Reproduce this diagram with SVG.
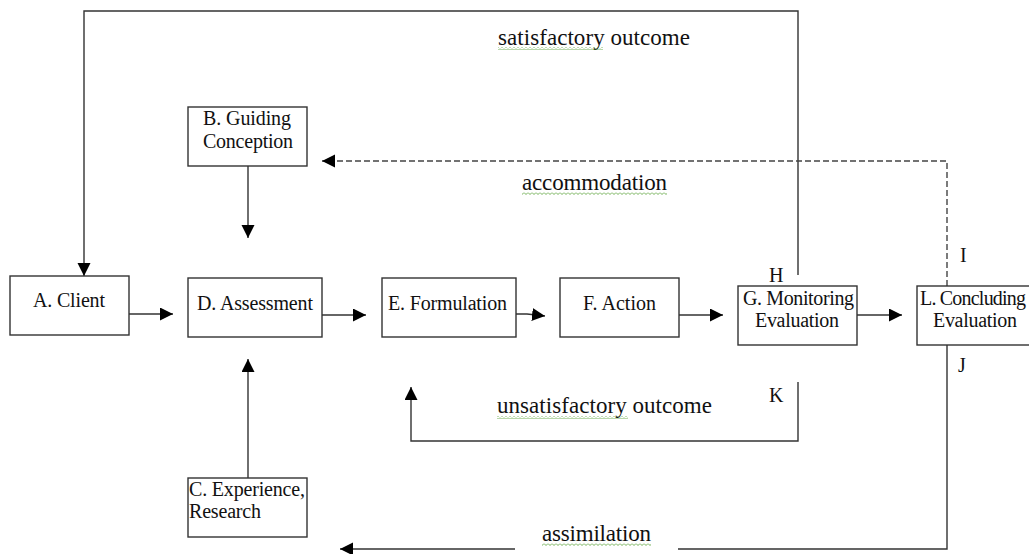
<svg xmlns="http://www.w3.org/2000/svg" width="1029" height="554" viewBox="0 0 1029 554">
<style>
.box{fill:#fff;stroke:#333;stroke-width:1.4}
.ln{fill:none;stroke:#333;stroke-width:1.4}
.dash{fill:none;stroke:#444;stroke-width:1.4;stroke-dasharray:6 3}
.t{font-family:"Liberation Serif","Times New Roman",serif;font-size:20px;fill:#111}
.lb{font-family:"Liberation Serif","Times New Roman",serif;font-size:23px;fill:#111}
.sq{fill:url(#squig)}
</style>
<defs>
<marker id="ah" markerUnits="userSpaceOnUse" markerWidth="14" markerHeight="14" refX="13" refY="6.5" orient="auto">
<path d="M0,0 L13,6.5 L0,13 z" fill="#000"/>
</marker>
<pattern id="squig" patternUnits="userSpaceOnUse" width="4" height="3">
<path d="M0,0.5 L2,2.5 L4,0.5" fill="none" stroke="#4c9a2a" stroke-width="0.8"/>
</pattern>
</defs>
<rect width="1029" height="554" fill="#fff"/>

<g id="connectors">
<path class="ln" d="M798,275 L798,11 L84,11 L84,276" marker-end="url(#ah)"/>
<path class="ln" d="M248,166 L248,238" marker-end="url(#ah)"/>
<path class="ln" d="M248,478 L248,359" marker-end="url(#ah)"/>
<path class="dash" d="M947,286 L947,161 L322,161" marker-end="url(#ah)"/>
<path class="ln" d="M129,314 L173,314" marker-end="url(#ah)"/>
<path class="ln" d="M322,315 L366,315" marker-end="url(#ah)"/>
<path class="ln" d="M516,314 L527,314 L545,316" marker-end="url(#ah)"/>
<path class="ln" d="M679,315 L723,315" marker-end="url(#ah)"/>
<path class="ln" d="M857,315 L902,315" marker-end="url(#ah)"/>
<path class="ln" d="M798,382 L798,441 L411,441 L411,387" marker-end="url(#ah)"/>
<path class="ln" d="M947,345 L947,549 L678,549"/>
<path class="ln" d="M515,549 L340,549" marker-end="url(#ah)"/>
</g>

<g id="labels">
<text class="lb" x="498" y="45" textLength="192">satisfactory outcome</text>
<rect class="sq" x="498" y="47" width="105" height="3"/>
<text class="lb" x="522" y="190" textLength="145">accommodation</text>
<rect class="sq" x="522" y="192" width="145" height="3"/>
<text class="lb" x="497" y="413" textLength="215">unsatisfactory outcome</text>
<rect class="sq" x="497" y="416" width="131" height="3"/>
<text class="lb" x="542" y="541" textLength="109">assimilation</text>
<rect class="sq" x="542" y="543" width="109" height="3"/>
<text class="t" x="769" y="282">H</text>
<text class="t" x="960" y="262">I</text>
<text class="t" x="958" y="372">J</text>
<text class="t" x="769" y="402">K</text>
</g>

<g id="nodeA">
<rect class="box" x="10" y="276" width="119" height="59"/>
<text class="t" x="33" y="307" textLength="72">A. Client</text>
</g>
<g id="nodeB">
<rect class="box" x="188" y="107" width="119" height="59"/>
<text class="t" x="203" y="125" textLength="88">B. Guiding</text>
<text class="t" x="203" y="148" textLength="90">Conception</text>
</g>
<g id="nodeC">
<rect class="box" x="188" y="478" width="119" height="59"/>
<text class="t" x="189" y="496" textLength="116">C. Experience,</text>
<text class="t" x="189" y="518" textLength="72">Research</text>
</g>
<g id="nodeD">
<rect class="box" x="188" y="278" width="134" height="59"/>
<text class="t" x="197" y="310" textLength="116">D. Assessment</text>
</g>
<g id="nodeE">
<rect class="box" x="382" y="278" width="134" height="59"/>
<text class="t" x="388" y="310" textLength="119">E. Formulation</text>
</g>
<g id="nodeF">
<rect class="box" x="560" y="278" width="119" height="59"/>
<text class="t" x="583" y="310" textLength="73">F. Action</text>
</g>
<g id="nodeG">
<rect class="box" x="738" y="286" width="119" height="59"/>
<text class="t" x="743" y="305" textLength="111">G. Monitoring</text>
<text class="t" x="755" y="327" textLength="84">Evaluation</text>
</g>
<g id="nodeL">
<rect class="box" x="917" y="286" width="130" height="59"/>
<text class="t" x="920" y="305" textLength="106">L. Concluding</text>
<text class="t" x="933" y="327" textLength="84">Evaluation</text>
</g>
</svg>
